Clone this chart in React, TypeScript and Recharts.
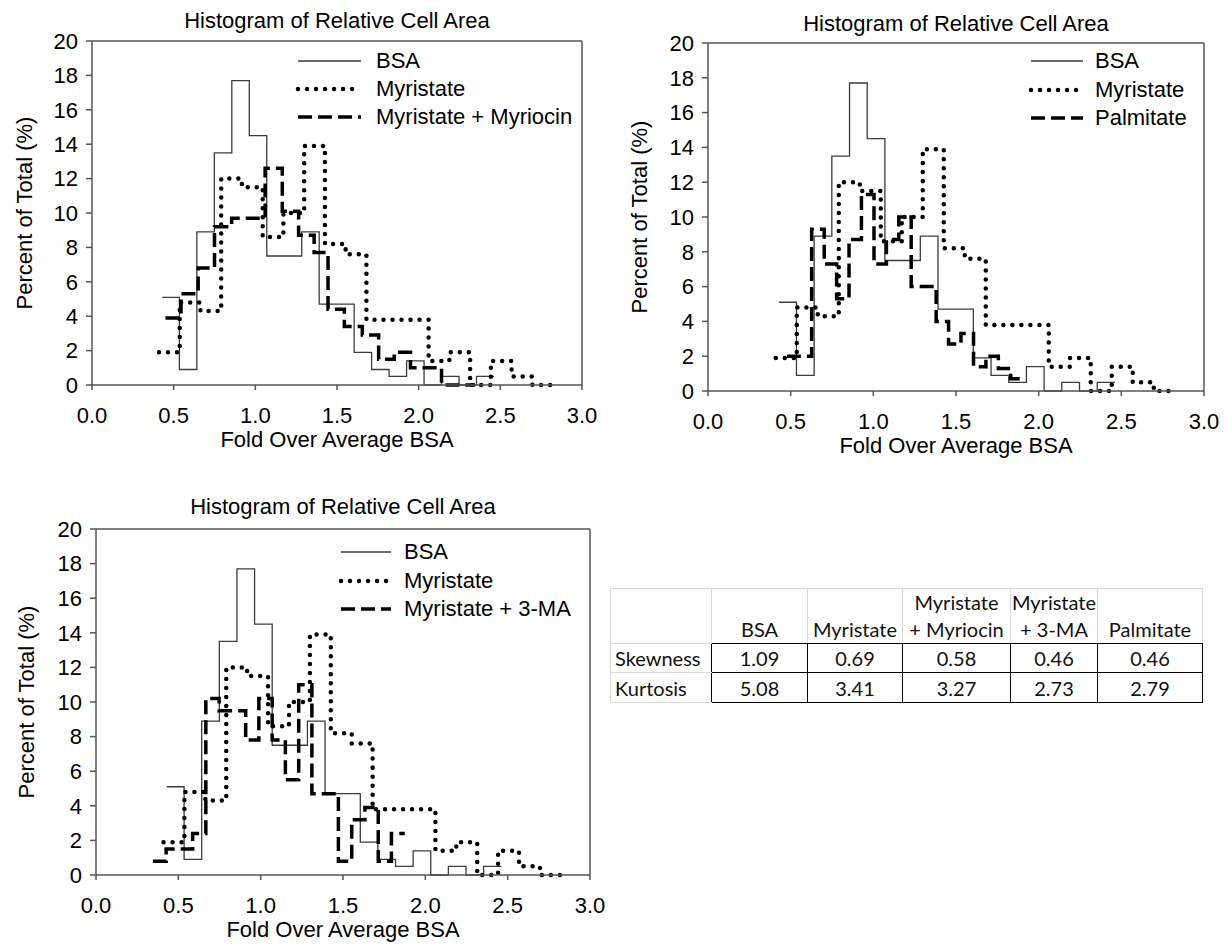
import React from "react";
import { LineChart, Line, XAxis, YAxis, ReferenceLine } from "recharts";

// axis ticks
const xTicks = [0, 0.5, 1, 1.5, 2, 2.5, 3];
const yTicks = [0, 2, 4, 6, 8, 10, 12, 14, 16, 18, 20];

// histogram bins: left edges of each bin (last entry = right end)
const bsaEdges = [0.43, 0.535, 0.642, 0.749, 0.856, 0.963, 1.07, 1.177, 1.284, 1.391, 1.498, 1.605, 1.712, 1.819, 1.926, 2.033, 2.14, 2.247, 2.354, 2.461];
const bsaPct = [5.1, 0.9, 8.9, 13.5, 17.7, 14.5, 7.5, 7.5, 8.9, 4.7, 4.7, 1.9, 0.9, 0.5, 1.4, 0, 0.5, 0, 0.5];

const myrEdges = [0.41, 0.537, 0.664, 0.791, 0.918, 1.045, 1.172, 1.299, 1.426, 1.553, 1.68, 1.807, 1.934, 2.061, 2.188, 2.315, 2.442, 2.569, 2.696, 2.823];
const myrPct = [1.9, 4.8, 4.3, 12.0, 11.5, 8.6, 10.0, 13.9, 8.2, 7.6, 3.8, 3.8, 3.8, 1.4, 1.9, 0, 1.4, 0.5, 0];

const myriocinEdges = [0.45, 0.545, 0.65, 0.75, 0.855, 0.955, 1.06, 1.165, 1.265, 1.36, 1.445, 1.545, 1.655, 1.755, 1.85, 1.95, 2.045, 2.14, 2.245, 2.345];
const myriocinPct = [3.9, 5.3, 6.8, 9.2, 9.7, 9.7, 12.6, 10.1, 8.7, 7.7, 4.4, 3.4, 2.9, 1.5, 1.9, 1.0, 1.0, 0, 0];

const palmEdges = [0.477, 0.552, 0.627, 0.703, 0.778, 0.853, 0.928, 1.004, 1.079, 1.154, 1.229, 1.305, 1.38, 1.455, 1.53, 1.606, 1.681, 1.756, 1.831, 1.907];
const palmPct = [2.0, 2.0, 9.3, 7.3, 5.3, 8.7, 11.3, 7.3, 8.7, 10.0, 6.0, 6.0, 4.0, 2.7, 3.3, 1.4, 2.0, 1.3, 0.7];

const maEdges = [0.345, 0.426, 0.506, 0.587, 0.667, 0.748, 0.828, 0.909, 0.989, 1.07, 1.15, 1.231, 1.311, 1.392, 1.472, 1.553, 1.633, 1.714, 1.794, 1.875];
const maPct = [0.8, 1.5, 1.5, 2.4, 10.2, 9.5, 9.5, 7.8, 10.2, 7.8, 5.5, 11.0, 4.7, 4.7, 0.8, 3.2, 3.9, 0.8, 2.4];

// table
const tableHead1 = ["", "", "Myristate", "Myristate", ""];
const tableHead2 = ["BSA", "Myristate", "+ Myriocin", "+ 3-MA", "Palmitate"];
const skewness = [1.09, 0.69, 0.58, 0.46, 0.46];
const kurtosis = [5.08, 3.41, 3.27, 2.73, 2.79];

type Pt = { x: number; y: number };

// stepAfter points: each edge carries the value of the bin that starts there
const toSteps = (edges: number[], pct: number[]): Pt[] =>
  edges.map((x, i) => ({ x, y: pct[Math.min(i, pct.length - 1)] }));

const FONT = '"Liberation Sans", Arial, Helvetica, sans-serif';
const AXIS = "#555";

const STYLES: Record<string, any> = {
  solid: { stroke: "#3c3c3c", strokeWidth: 1.3 },
  dotted: { stroke: "#000", strokeWidth: 4.5, strokeDasharray: "0.01 9", strokeLinecap: "round" },
  dashed: { stroke: "#000", strokeWidth: 3.5, strokeDasharray: "14 6" },
};

interface Series {
  name: string;
  style: "solid" | "dotted" | "dashed";
  data: Pt[];
}

interface PanelProps {
  box: { left: number; top: number; w: number; h: number };
  plot: { left: number; right: number; top: number; bottom: number };
  titleY: number;
  xTitleBaseline: number;
  yTitleX: number;
  legend: { lineX0: number; lineX1: number; textX: number; rows: number[] };
  series: Series[];
}

const Panel = ({ box, plot, titleY, xTitleBaseline, yTitleX, legend, series }: PanelProps) => {
  const yAxisWidth = plot.left - box.left;
  const xAxisHeight = box.top + box.h - plot.bottom;
  const tickStyle = { fill: "#000", fontSize: 22, fontFamily: FONT };
  return (
    <>
      <div
        style={{
          position: "absolute",
          left: plot.left,
          width: plot.right - plot.left,
          top: titleY - 13,
          lineHeight: "26px",
          fontSize: 22,
          fontFamily: FONT,
          textAlign: "center",
          whiteSpace: "nowrap",
        }}
      >
        Histogram of Relative Cell Area
      </div>
      <div style={{ position: "absolute", left: box.left, top: box.top }}>
        <LineChart
          width={box.w}
          height={box.h}
          margin={{ top: plot.top - box.top, right: box.left + box.w - plot.right, left: 0, bottom: 0 }}
        >
          <XAxis
            type="number"
            dataKey="x"
            domain={[0, 3]}
            ticks={xTicks}
            interval={0}
            allowDataOverflow
            height={xAxisHeight}
            tickFormatter={(v: number) => v.toFixed(1)}
            tick={tickStyle}
            tickSize={5}
            tickMargin={17}
            stroke={AXIS}
            strokeWidth={1.5}
            label={{
              value: "Fold Over Average BSA",
              position: "insideBottom",
              offset: box.top + box.h - xTitleBaseline,
              fill: "#000",
              fontSize: 22,
              fontFamily: FONT,
            }}
          />
          <YAxis
            type="number"
            domain={[0, 20]}
            ticks={yTicks}
            interval={0}
            width={yAxisWidth}
            tick={tickStyle}
            tickSize={6}
            tickMargin={8}
            stroke={AXIS}
            strokeWidth={1.5}
            label={{
              value: "Percent of Total (%)",
              angle: -90,
              position: "insideLeft",
              offset: yTitleX,
              fill: "#000",
              fontSize: 22,
              fontFamily: FONT,
              style: { textAnchor: "middle" },
            }}
          />
          <ReferenceLine y={20} stroke={AXIS} strokeWidth={1.5} />
          <ReferenceLine x={3} stroke={AXIS} strokeWidth={1.5} />
          {series.map((s) => (
            <Line
              key={s.name}
              data={s.data}
              dataKey="y"
              type="stepAfter"
              dot={false}
              activeDot={false}
              isAnimationActive={false}
              {...STYLES[s.style]}
            />
          ))}
        </LineChart>
      </div>
      {series.map((s, i) => (
        <div
          key={s.name}
          style={{ position: "absolute", left: legend.lineX0, top: legend.rows[i] - 14, height: 28 }}
        >
          <svg
            width={legend.lineX1 - legend.lineX0 + 6}
            height={28}
            style={{ position: "absolute", left: -3, top: 0 }}
          >
            <line x1={3} x2={legend.lineX1 - legend.lineX0 + 3} y1={14} y2={14} {...STYLES[s.style]} />
          </svg>
          <span
            style={{
              position: "absolute",
              left: legend.textX - legend.lineX0,
              top: 0,
              lineHeight: "28px",
              fontSize: 22,
              fontFamily: FONT,
              whiteSpace: "nowrap",
            }}
          >
            {s.name}
          </span>
        </div>
      ))}
    </>
  );
};

const bsa: Series = { name: "BSA", style: "solid", data: toSteps(bsaEdges, bsaPct) };
const myr: Series = { name: "Myristate", style: "dotted", data: toSteps(myrEdges, myrPct) };

const cellLight = "1px solid #d9d9d9";
const cellDark = "1.5px solid #000";

const StatsTable = () => {
  const colW = [101, 96, 95, 108, 87, 105];
  const base: React.CSSProperties = {
    fontFamily: "Lato, Calibri, sans-serif",
    fontSize: 20,
    color: "#111",
    padding: 0,
  };
  return (
    <table
      style={{
        position: "absolute",
        left: 610,
        top: 588,
        borderCollapse: "collapse",
        tableLayout: "fixed",
        width: colW.reduce((a, b) => a + b, 0),
      }}
    >
      <colgroup>
        {colW.map((w, i) => (
          <col key={i} style={{ width: w }} />
        ))}
      </colgroup>
      <tbody>
        <tr style={{ height: 51 }}>
          <td style={{ ...base, border: cellLight }} />
          {tableHead2.map((h, i) => (
            <td
              key={h}
              style={{
                ...base,
                border: cellLight,
                borderBottom: cellDark,
                textAlign: "center",
                verticalAlign: "bottom",
                lineHeight: "27px",
                whiteSpace: "nowrap",
              }}
            >
              {tableHead1[i] ? (
                <>
                  {tableHead1[i]}
                  <br />
                </>
              ) : null}
              {h}
            </td>
          ))}
        </tr>
        {[
          ["Skewness", skewness],
          ["Kurtosis", kurtosis],
        ].map(([label, vals]) => (
          <tr key={label as string} style={{ height: 29.4 }}>
            <td
              style={{
                ...base,
                border: cellLight,
                borderRight: cellDark,
                paddingLeft: 4,
                textAlign: "left",
              }}
            >
              {label as string}
            </td>
            {(vals as number[]).map((v, i) => (
              <td key={i} style={{ ...base, border: cellDark, textAlign: "center" }}>
                {v.toFixed(2)}
              </td>
            ))}
          </tr>
        ))}
      </tbody>
    </table>
  );
};

export default function App() {
  return (
    <div
      style={{
        position: "absolute",
        left: 0,
        top: 0,
        width: 1228,
        height: 952,
        background: "#fff",
        overflow: "hidden",
      }}
    >
      <Panel
        box={{ left: 0, top: 0, w: 604, h: 470 }}
        plot={{ left: 92, right: 582, top: 41, bottom: 385 }}
        titleY={21}
        xTitleBaseline={447}
        yTitleX={24}
        legend={{ lineX0: 298, lineX1: 361, textX: 376, rows: [61, 89, 117] }}
        series={[
          bsa,
          myr,
          { name: "Myristate + Myriocin", style: "dashed", data: toSteps(myriocinEdges, myriocinPct) },
        ]}
      />
      <Panel
        box={{ left: 610, top: 0, w: 618, h: 470 }}
        plot={{ left: 708, right: 1204, top: 43, bottom: 391 }}
        titleY={24}
        xTitleBaseline={453}
        yTitleX={29}
        legend={{ lineX0: 1031, lineX1: 1083, textX: 1095, rows: [61, 90, 118] }}
        series={[bsa, myr, { name: "Palmitate", style: "dashed", data: toSteps(palmEdges, palmPct) }]}
      />
      <Panel
        box={{ left: 0, top: 480, w: 612, h: 472 }}
        plot={{ left: 96, right: 590, top: 529, bottom: 875 }}
        titleY={507}
        xTitleBaseline={937}
        yTitleX={26}
        legend={{ lineX0: 341, lineX1: 391, textX: 404, rows: [552, 581, 609] }}
        series={[bsa, myr, { name: "Myristate + 3-MA", style: "dashed", data: toSteps(maEdges, maPct) }]}
      />
      <StatsTable />
    </div>
  );
}
